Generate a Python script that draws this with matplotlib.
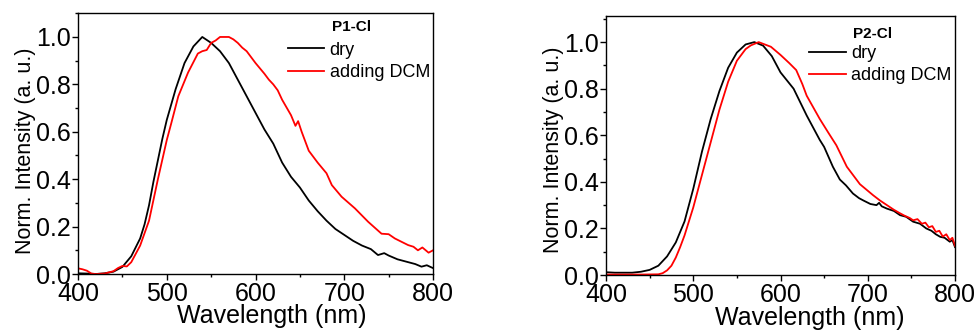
import matplotlib
matplotlib.use("Agg")
import matplotlib.pyplot as plt
from matplotlib.ticker import MultipleLocator

plt.rcParams['font.family'] = ['Liberation Sans', 'DejaVu Sans']

# ---------------- data: P1-Cl ----------------
p1_dry_wl = [400, 410, 420, 430, 440, 450, 460, 470, 475, 480, 485, 490, 495, 500, 510, 520, 530, 540,
             550, 560, 570, 580, 590, 600, 610, 620, 630, 640, 650, 660, 670, 680, 690, 700,
             710, 720, 730, 738, 745, 750, 760, 770, 780, 787, 793, 800]
p1_dry = [0.003, 0.002, 0.0, 0.003, 0.010, 0.030, 0.075, 0.15, 0.21, 0.29, 0.39, 0.48, 0.57, 0.65, 0.78, 0.89, 0.96, 1.0,
          0.975, 0.94, 0.89, 0.82, 0.75, 0.68, 0.61, 0.55, 0.47, 0.41, 0.365, 0.31, 0.265, 0.225, 0.19, 0.165,
          0.14, 0.12, 0.105, 0.08, 0.088, 0.078, 0.062, 0.052, 0.042, 0.031, 0.037, 0.025]

p1_dcm_wl = [400, 405, 410, 415, 420, 430, 440, 445, 450, 455, 460, 470, 480, 490, 500, 505, 513, 524, 535, 540,
             545, 550, 555, 560, 570, 575, 580, 585, 590, 600, 610, 615, 620, 625, 630, 640, 645, 648,
             652, 660, 670, 680, 686, 697, 712, 727, 742, 750, 757, 765, 772, 778, 783, 788, 795, 800]
p1_dcm = [0.024, 0.02, 0.014, 0.002, 0.0, 0.002, 0.012, 0.025, 0.034, 0.032, 0.05, 0.12, 0.225, 0.40, 0.565, 0.635, 0.75, 0.85, 0.93, 0.94,
          0.945, 0.975, 0.985, 1.0, 1.0, 0.99, 0.975, 0.955, 0.94, 0.89, 0.845, 0.82, 0.80, 0.775, 0.735, 0.67, 0.625, 0.645,
          0.60, 0.52, 0.47, 0.425, 0.375, 0.326, 0.277, 0.22, 0.17, 0.168, 0.15, 0.135, 0.122, 0.115, 0.10, 0.112, 0.09, 0.10]

# ---------------- data: P2-Cl ----------------
p2_dry_wl = [400, 410, 420, 430, 440, 450, 460, 470, 480, 490, 500, 510, 520, 530, 540, 550, 560, 570,
             580, 590, 600, 615, 630, 645, 650, 660, 668, 675, 683, 690, 695, 703, 710, 713, 716, 722,
             730, 737, 744, 752, 760, 767, 773, 778, 783, 788, 794, 797, 800]
p2_dry = [0.012, 0.01, 0.01, 0.01, 0.014, 0.022, 0.04, 0.08, 0.14, 0.23, 0.37, 0.53, 0.67, 0.79, 0.89, 0.955, 0.99, 1.0,
          0.985, 0.94, 0.87, 0.80, 0.685, 0.58, 0.55, 0.465, 0.41, 0.385, 0.35, 0.33, 0.32, 0.305, 0.30, 0.31, 0.295, 0.285,
          0.275, 0.257, 0.25, 0.229, 0.22, 0.20, 0.19, 0.175, 0.164, 0.16, 0.143, 0.15, 0.12]

p2_dcm_wl = [400, 420, 440, 460, 465, 470, 475, 480, 485, 490, 500, 510, 520, 530, 540, 550, 560, 566, 575,
             589, 600, 610, 618, 625, 630, 645, 655, 664, 676, 691, 706, 714, 722, 730, 737, 742, 748,
             752, 757, 762, 766, 770, 774, 778, 782, 786, 790, 794, 797, 800]
p2_dcm = [0.002, 0.002, 0.002, 0.003, 0.008, 0.02, 0.04, 0.075, 0.12, 0.17, 0.29, 0.43, 0.57, 0.71, 0.83, 0.92, 0.97, 0.986, 1.0,
          0.98, 0.945, 0.91, 0.88, 0.82, 0.77, 0.67, 0.61, 0.557, 0.465, 0.39, 0.343, 0.32, 0.30, 0.28, 0.265, 0.255, 0.245,
          0.235, 0.24, 0.22, 0.225, 0.205, 0.21, 0.185, 0.19, 0.165, 0.175, 0.15, 0.16, 0.125]

x_ticks = [400, 500, 600, 700, 800]
y_ticks = [0.0, 0.2, 0.4, 0.6, 0.8, 1.0]

fig = plt.figure(figsize=(9.79, 3.34), dpi=100)
ax1 = fig.add_axes([0.0797, 0.1796, 0.3626, 0.7814])
ax2 = fig.add_axes([0.619, 0.1766, 0.3565, 0.7754])

panels = [
    (ax1, p1_dry_wl, p1_dry, p1_dcm_wl, p1_dcm, 'P1-Cl', 1.101, (0.546, -0.115), (-0.119, 0.471),
     (0.592, 0.89), (0.715, 0.945)),
    (ax2, p2_dry_wl, p2_dry, p2_dcm_wl, p2_dcm, 'P2-Cl', 1.112, (0.585, -0.12), (-0.121, 0.485),
     (0.583, 0.888), (0.709, 0.932)),
]

for ax, dwl, d, rwl, r, title, ytop, xl, yl, leg, tt in panels:
    ax.plot(dwl, d, color='black', lw=1.3, label='dry')
    ax.plot(rwl, r, color='#ff0000', lw=1.3, label='adding DCM')
    ax.set_xlim(400, 800)
    ax.set_ylim(0, ytop)
    ax.set_xticks(x_ticks)
    ax.set_yticks(y_ticks)
    ax.set_yticklabels([f"{v:.1f}" for v in y_ticks])
    ax.xaxis.set_minor_locator(MultipleLocator(50))
    ax.yaxis.set_minor_locator(MultipleLocator(0.1))
    ax.tick_params(which='major', direction='out', length=4, width=1, labelsize=18)
    ax.tick_params(which='minor', direction='out', length=2.5, width=1)
    ax.tick_params(axis='x', pad=2)
    ax.tick_params(axis='y', pad=1)
    for s in ax.spines.values():
        s.set_linewidth(1.0)
    ax.set_xlabel('Wavelength (nm)', fontsize=18)
    ax.xaxis.set_label_coords(*xl)
    ax.set_ylabel('Norm. Intensity (a. u.)', fontsize=15.5)
    ax.yaxis.set_label_coords(*yl)
    ax.legend(loc='upper left', bbox_to_anchor=leg, frameon=False, fontsize=13,
              handlelength=2.0, handletextpad=0.3, labelspacing=0.3, borderpad=0, borderaxespad=0)
    ax.text(tt[0], tt[1], title, transform=ax.transAxes, fontsize=11, fontweight='bold',
            ha='left', va='center')

fig.savefig('out.png', dpi=100)
